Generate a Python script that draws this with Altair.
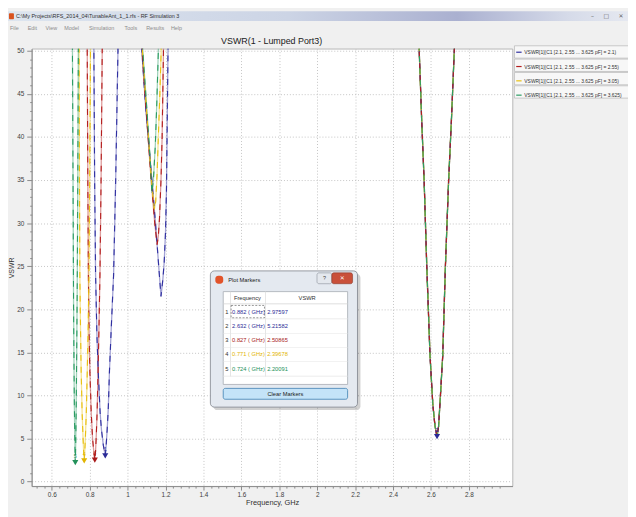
import altair as alt
import pandas as pd

FONT = "Liberation Sans"

# ---------------- data ----------------
series_labels = [
    "VSWR[1](C1 [2.1, 2.55 ... 3.625 pF] = 2.1)",
    "VSWR[1](C1 [2.1, 2.55 ... 3.625 pF] = 2.55)",
    "VSWR[1](C1 [2.1, 2.55 ... 3.625 pF] = 3.05)",
    "VSWR[1](C1 [2.1, 2.55 ... 3.625 pF] = 3.625)",
]
series_colors = ["#2f2fa0", "#b41e1e", "#e9c011", "#2b9c63"]

# C1 = 2.1 pF (blue)
c21_freq = [0.810, 0.822, 0.826, 0.831, 0.838, 0.845, 0.855, 0.862, 0.872, 0.882,
            0.887, 0.892, 0.898, 0.904, 0.914, 0.926, 0.937, 0.949, 0.960,
            1.050, 1.075, 1.095, 1.115, 1.128, 1.147, 1.164, 1.176, 1.186, 1.193,
            1.200, 1.205, 1.208, 1.211, 1.213, 1.225]
c21_vswr = [80, 50, 35, 24, 17, 12.7, 8, 6, 4.2, 3.0,
            4.3, 6, 8.5, 12.7, 18, 24, 35, 50, 80,
            80, 50, 43.5, 38.3, 35, 30, 25, 21.5, 23.5, 25.5,
            29, 34, 40, 46, 50, 80]
# C1 = 2.55 pF (red)
c255_freq = [0.775, 0.787, 0.790, 0.793, 0.797, 0.801, 0.808, 0.815, 0.821, 0.827,
             0.831, 0.834, 0.839, 0.844, 0.849, 0.854, 0.860, 0.866, 0.875,
             1.050, 1.076, 1.098, 1.124, 1.143, 1.1555, 1.162, 1.168, 1.176, 1.182,
             1.189, 1.200]
c255_vswr = [80, 50, 35, 24, 17, 12.7, 8, 5, 3.6, 2.5,
             3.6, 5, 8, 12.7, 18, 24, 35, 50, 80,
             80, 50, 43, 35, 30, 27.5, 28.5, 30.5, 35, 40,
             50, 80]
# C1 = 3.05 pF (yellow)
c305_freq = [0.735, 0.744, 0.746, 0.748, 0.752, 0.755, 0.760, 0.765, 0.768, 0.771,
             0.774, 0.777, 0.782, 0.787, 0.792, 0.796, 0.800, 0.804, 0.810,
             1.050, 1.078, 1.100, 1.124, 1.134, 1.141, 1.148, 1.155, 1.162, 1.170,
             1.177, 1.190]
c305_vswr = [80, 50, 35, 24, 17, 12.7, 8, 5, 3.5, 2.4,
             3.5, 5, 8, 12.7, 18, 24, 35, 50, 80,
             80, 50, 43, 35.5, 33, 31.6, 32.5, 35.5, 40, 45,
             50, 80]
# C1 = 3.625 pF (green)
c3625_freq = [0.700, 0.709, 0.711, 0.713, 0.715, 0.717, 0.719, 0.721, 0.723, 0.724,
              0.725, 0.727, 0.729, 0.731, 0.734, 0.736, 0.738, 0.740, 0.745,
              1.050, 1.080, 1.102, 1.120, 1.128, 1.136, 1.146, 1.154, 1.162, 1.175]
c3625_vswr = [80, 50, 40, 30, 20, 14, 9, 5.5, 3, 2.2,
              3, 5.5, 9, 14, 22, 30, 40, 50, 80,
              80, 50, 43, 37, 33.5, 35, 39, 44, 50, 80]
# upper band (all four curves overlap)
band3_freq = [2.500, 2.538, 2.551, 2.564, 2.578, 2.595, 2.610, 2.621, 2.632,
              2.640, 2.647, 2.662, 2.676, 2.693, 2.708, 2.723, 2.760]
band3_vswr = [80, 50, 42, 34.9, 24.9, 14.6, 8.9, 6.5, 5.2,
              6.4, 8.9, 14.6, 24.9, 34.9, 42, 50, 80]

marker_id = [1, 2, 3, 4, 5]
marker_freq = [0.882, 2.632, 0.827, 0.771, 0.724]
marker_vswr = [2.97597, 5.21582, 2.50865, 2.39678, 2.20091]
marker_color = ["#2a2a96", "#2a2a96", "#a81a1a", "#e2b400", "#23915a"]

menu_items = ["File", "Edit", "View", "Model", "Simulation", "Tools", "Results", "Help"]

x_major = [0.6, 0.8, 1.0, 1.2, 1.4, 1.6, 1.8, 2.0, 2.2, 2.4, 2.6, 2.8]
y_major = [0, 5, 10, 15, 20, 25, 30, 35, 40, 45, 50]
x_minor = [round(0.52 + 0.04 * i, 2) for i in range(63) if i % 5 != 2]
y_minor = [v for v in range(0, 51) if v % 5 != 0]

# ---------------- tables ----------------
freqs = [c21_freq, c255_freq, c305_freq, c3625_freq]
vswrs = [c21_vswr, c255_vswr, c305_vswr, c3625_vswr]
parts = []
for lab, f, v in zip(series_labels, freqs, vswrs):
    parts.append(pd.DataFrame({"freq": f + band3_freq, "vswr": v + band3_vswr, "series": lab}))
lines = pd.concat(parts, ignore_index=True)

markers = pd.DataFrame({"id": marker_id, "freq": marker_freq, "vswr": marker_vswr,
                        "mcolor": marker_color})
markers["ftxt"] = [f"{f:.3f} ( GHz)" for f in marker_freq]
markers["vtxt"] = [f"{v:.5f}" for v in marker_vswr]

# ---------------- geometry ----------------
PX, PY = 32, 46          # page position of plot origin
W, H = 487, 443
xs = alt.Scale(domain=[0.494, 3.03], nice=False, zero=False)
ys = alt.Scale(domain=[-0.52, 50.23], nice=False, zero=False)
cs = alt.Scale(domain=series_labels, range=series_colors)

legend = alt.Legend(title=None, orient="none", legendX=490, legendY=0, symbolType="stroke",
                    symbolSize=30, symbolStrokeWidth=1.2, symbolOpacity=1,
                    labelFontSize=5, labelFont=FONT, labelColor="#303030",
                    rowPadding=7.5, labelOffset=2, padding=0, labelLimit=300)

ax_x = alt.Axis(values=x_major, format="~g", orient="bottom", grid=True, gridDash=[1, 2],
                gridColor="#c4c4c4", tickSize=4, tickColor="#8a8a8a", domainColor="#8a8a8a",
                labelFont=FONT, labelFontSize=6.5, labelColor="#404040", labelPadding=1.5,
                title="Frequency, GHz", titleFont=FONT, titleFontSize=7.5,
                titleFontWeight="normal", titleColor="#303030", titlePadding=1)
ax_y = alt.Axis(values=y_major, format="d", orient="left", grid=True, gridDash=[1, 2],
                gridColor="#c4c4c4", tickSize=5, tickColor="#8a8a8a", domainColor="#8a8a8a",
                labelFont=FONT, labelFontSize=6.5, labelColor="#404040", labelPadding=3,
                title="VSWR", titleFont=FONT, titleFontSize=7, titleFontWeight="normal",
                titleColor="#303030", titlePadding=2)
ax_xm = alt.Axis(values=x_minor, orient="bottom", labels=False, grid=False, domain=False,
                 tickSize=2, tickColor="#8a8a8a", title=None)
ax_ym = alt.Axis(values=y_minor, orient="left", labels=False, grid=False, domain=False,
                 tickSize=2, tickColor="#8a8a8a", title=None)

dummy = pd.DataFrame({"k": [0]})


def rect(x0, y0, x1, y1, fill, stroke=None, sw=0.8, r=0, dash=None, op=1.0):
    kw = dict(fill=fill, cornerRadius=r, opacity=op)
    if stroke:
        kw.update(stroke=stroke, strokeWidth=sw)
    if dash:
        kw["strokeDash"] = dash
    return alt.Chart(dummy).mark_rect(**kw).encode(
        x=alt.value(x0 - PX), x2=alt.value(x1 - PX), y=alt.value(y0 - PY), y2=alt.value(y1 - PY))


def txt(x, y, s, size, color="#202020", align="left", font=FONT):
    return alt.Chart(dummy).mark_text(text=s, fontSize=size, color=color, align=align,
                                      baseline="middle", font=font).encode(
        x=alt.value(x - PX), y=alt.value(y - PY))


layers = []
# window chrome
layers.append(rect(8, 8, 640, 18, alt.Gradient(
    gradient="linear", x1=0, x2=1, y1=0, y2=0,
    stops=[alt.GradientStop(offset=0, color="#dde5ef"),
           alt.GradientStop(offset=0.45, color="#ccd4e5"),
           alt.GradientStop(offset=0.72, color="#aab0d0"),
           alt.GradientStop(offset=0.9, color="#d6dbe9"),
           alt.GradientStop(offset=1, color="#e6e9f1")])))
layers.append(rect(9, 10, 14, 16, "#d9531e", r=1))
layers.append(txt(16, 13, "C:\\My Projects\\RFS_2014_04\\TunableAnt_1_1.rfs - RF Simulation 3", 5.5, "#303030"))
layers.append(txt(600, 13, "\u2013", 6, "#606060", "center", "DejaVu Sans"))
layers.append(txt(614, 13, "\u25a1", 6, "#606060", "center", "DejaVu Sans"))
layers.append(txt(629, 13, "\u2715", 6, "#606060", "center", "DejaVu Sans"))
menu_x = [10, 28, 46, 65, 90, 126, 148, 173]
for word, mx in zip(menu_items, menu_x):
    layers.append(txt(mx, 25, word, 5.5, "#8c8c8c"))
layers.append(txt(275, 38, "VSWR(1 - Lumped Port3)", 9, "#202020", "center"))
# legend boxes
for i in range(len(series_labels)):
    layers.append(rect(521, 43 + 13.5 * i, 640, 55.5 + 13.5 * i, "#f7f7f7", "#b4b4b4", 0.7))

base = alt.Chart(lines)
layers.append(base.mark_line(clip=True, strokeWidth=1.3, opacity=0.45).encode(
    x=alt.X("freq:Q", scale=xs, axis=ax_x),
    y=alt.Y("vswr:Q", scale=ys, axis=ax_y),
    color=alt.Color("series:N", scale=cs, legend=legend),
    detail="series:N"))
for i, lab in enumerate(series_labels):
    layers.append(base.transform_filter(alt.datum.series == lab).mark_line(
        clip=True, strokeWidth=1.1, strokeDash=[6, 6], strokeDashOffset=3 * i).encode(
        x=alt.X("freq:Q", scale=xs, axis=ax_xm if i == 0 else None),
        y=alt.Y("vswr:Q", scale=ys, axis=ax_ym if i == 0 else None),
        color=alt.Color("series:N", scale=cs, legend=legend)))

mk = alt.Chart(markers)
layers.append(mk.mark_point(shape="triangle-down", filled=True, size=38, opacity=1).encode(
    x=alt.X("freq:Q", scale=xs, axis=None), y=alt.Y("vswr:Q", scale=ys, axis=None),
    color=alt.Color("mcolor:N", scale=None)))
layers.append(mk.mark_text(dy=-7, fontSize=5.5, font=FONT).encode(
    x=alt.X("freq:Q", scale=xs, axis=None), y=alt.Y("vswr:Q", scale=ys, axis=None),
    color=alt.Color("mcolor:N", scale=None), text="id:N"))

# Plot Markers dialog
layers += [
    rect(216, 274, 365, 412, "#000000", op=0.18, r=4),
    rect(213, 271, 362, 409, "#e4e9f0", "#7d838c", 0.8, r=4),
    rect(218, 276, 226, 284, "#e2532a", r=3),
    txt(231, 280, "Plot Markers", 5.8),
    rect(321, 273, 336, 284, "#e4e8ee", "#8a9099", 0.6, r=2),
    txt(328.5, 278.7, "?", 5.5, "#404040", "center"),
    rect(336, 273, 357, 284, "#c9503a", "#8a3a2a", 0.6, r=2),
    txt(346.5, 278.7, "\u2715", 6, "#ffffff", "center", "DejaVu Sans"),
    rect(226, 292, 352, 386, "#ffffff", "#a6abb3", 0.8),
    rect(226, 304, 352, 304.7, "#d4d4d4"),
    rect(233, 292, 233.7, 378, "#dadada"),
    rect(268.3, 292, 269, 378, "#dadada"),
    txt(250.5, 298.5, "Frequency", 5.8, "#303030", "center"),
    txt(311, 298.5, "VSWR", 5.8, "#303030", "center"),
]
for i in range(len(marker_id)):
    yy = 319.3 + 14.5 * i
    layers.append(rect(226, yy, 352, yy + 0.6, "#e6e6e6"))
layers.append(rect(234, 306, 267.8, 318.5, "transparent", "#505050", 0.6, dash=[2, 1.5]))
row_y = f"{312.3 - PY} + (datum.id - 1) * 14.45"
layers.append(mk.transform_calculate(py=row_y).mark_text(
    fontSize=5.8, font=FONT, align="center", baseline="middle", color="#303030").encode(
    x=alt.value(229.6 - PX), y=alt.Y("py:Q", scale=None, axis=None), text="id:N"))
layers.append(mk.transform_calculate(py=row_y).mark_text(
    fontSize=5.8, font=FONT, align="left", baseline="middle").encode(
    x=alt.value(235 - PX), y=alt.Y("py:Q", scale=None, axis=None),
    color=alt.Color("mcolor:N", scale=None), text="ftxt:N"))
layers.append(mk.transform_calculate(py=row_y).mark_text(
    fontSize=5.8, font=FONT, align="left", baseline="middle").encode(
    x=alt.value(270.5 - PX), y=alt.Y("py:Q", scale=None, axis=None),
    color=alt.Color("mcolor:N", scale=None), text="vtxt:N"))
layers += [
    rect(226, 390, 352, 401, "#c4e3f8", "#3c7fb1", 0.8, r=2),
    txt(289, 395.5, "Clear Markers", 5.8, "#202020", "center"),
]

chart = alt.layer(*layers).resolve_axis(x="independent", y="independent").properties(
    width=W, height=H,
    padding={"left": 24, "top": 38, "right": 117, "bottom": 28},
    autosize=alt.AutoSizeParams(type="none"),
    background="#f0f0f0",
).configure_view(fill="#ffffff", stroke="#a8a8a8", strokeWidth=0.8)

chart.save("out.html", embed_options={"renderer": "svg", "actions": False})
